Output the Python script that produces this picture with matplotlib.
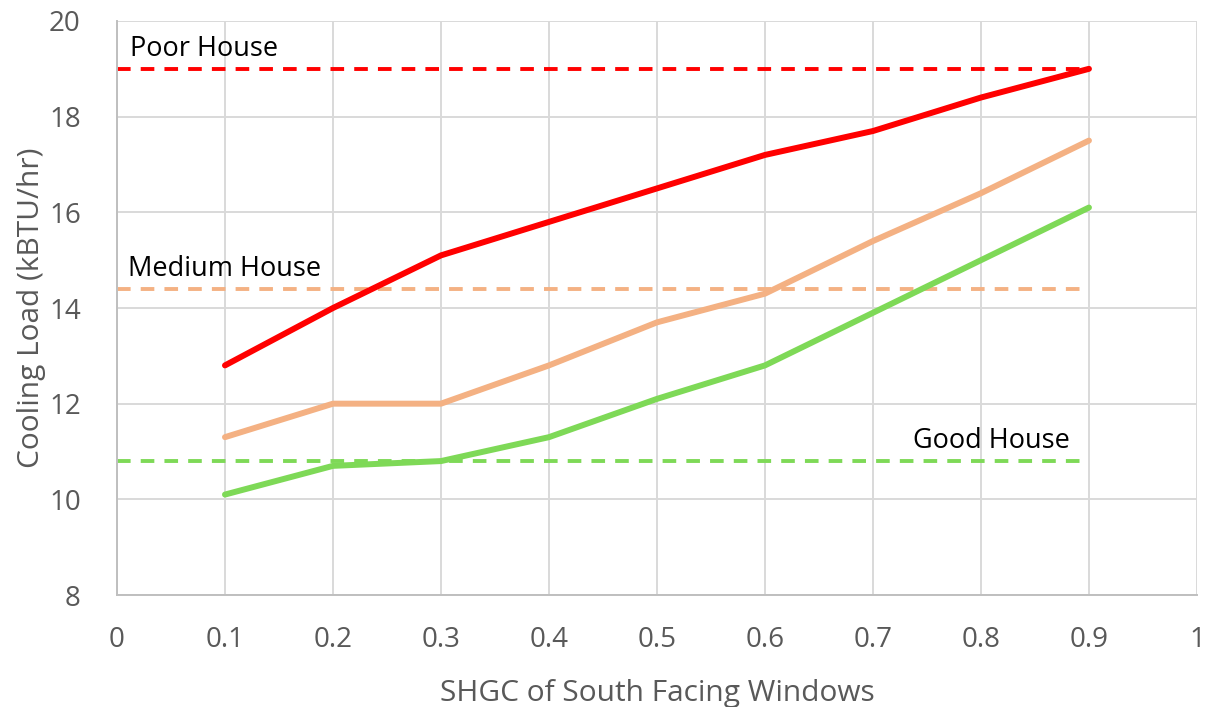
import matplotlib.pyplot as plt

shgc = [0.1, 0.2, 0.3, 0.4, 0.5, 0.6, 0.7, 0.8, 0.9]
poor = [12.8, 14.0, 15.1, 15.8, 16.5, 17.2, 17.7, 18.4, 19.0]
medium = [11.3, 12.0, 12.0, 12.8, 13.7, 14.3, 15.4, 16.4, 17.5]
good = [10.1, 10.7, 10.8, 11.3, 12.1, 12.8, 13.9, 15.0, 16.1]

ref_x = [0.0, 0.9]
ref_poor = 19.0
ref_medium = 14.4
ref_good = 10.8

red = '#FF0000'
orange = '#F4B183'
green = '#7ED957'

plt.rcParams['font.family'] = ['Open Sans', 'DejaVu Sans']

fig = plt.figure(figsize=(12.11, 7.07), dpi=100)
ax = fig.add_axes([0.0966, 0.1584, 0.8918, 0.8119])

# reference levels (dashed)
ax.plot(ref_x, [ref_poor] * 2, color=red, lw=2.8, dashes=(3.5, 2.6))
ax.plot(ref_x, [ref_medium] * 2, color=orange, lw=2.8, dashes=(3.5, 2.6))
ax.plot(ref_x, [ref_good] * 2, color=green, lw=2.8, dashes=(3.5, 2.6))

ax.plot(shgc, poor, color=red, lw=4.3, solid_capstyle='round')
ax.plot(shgc, medium, color=orange, lw=4.3, solid_capstyle='round')
ax.plot(shgc, good, color=green, lw=4.3, solid_capstyle='round')

ax.text(0.012, ref_poor + 0.12, 'Poor House', fontsize=19.5, color='black', va='bottom')
ax.text(0.01, ref_medium + 0.12, 'Medium House', fontsize=19.5, color='black', va='bottom')
ax.text(0.737, ref_good + 0.12, 'Good House', fontsize=19.5, color='black', va='bottom')

ax.set_xlim(0, 1)
ax.set_ylim(8, 20)
ax.set_xticks([0, 0.1, 0.2, 0.3, 0.4, 0.5, 0.6, 0.7, 0.8, 0.9, 1])
ax.set_xticklabels(['0', '0.1', '0.2', '0.3', '0.4', '0.5', '0.6', '0.7', '0.8', '0.9', '1'])
ax.set_yticks(range(8, 21, 2))

ax.grid(True, color='#D9D9D9', lw=1.4)
ax.set_axisbelow(True)
for s in ['top', 'right']:
    ax.spines[s].set_visible(False)
for s in ['left', 'bottom']:
    ax.spines[s].set_color('#BFBFBF')
    ax.spines[s].set_linewidth(1.4)

ax.tick_params(length=0, labelsize=20, colors='#595959')
ax.tick_params(axis='x', pad=22)
ax.tick_params(axis='y', pad=26)
ax.set_xlabel('SHGC of South Facing Windows', fontsize=21.5, color='#595959', labelpad=18)
ax.set_ylabel('Cooling Load (kBTU/hr)', fontsize=21.5, color='#595959', labelpad=2)

fig.savefig('out.png', dpi=100)
